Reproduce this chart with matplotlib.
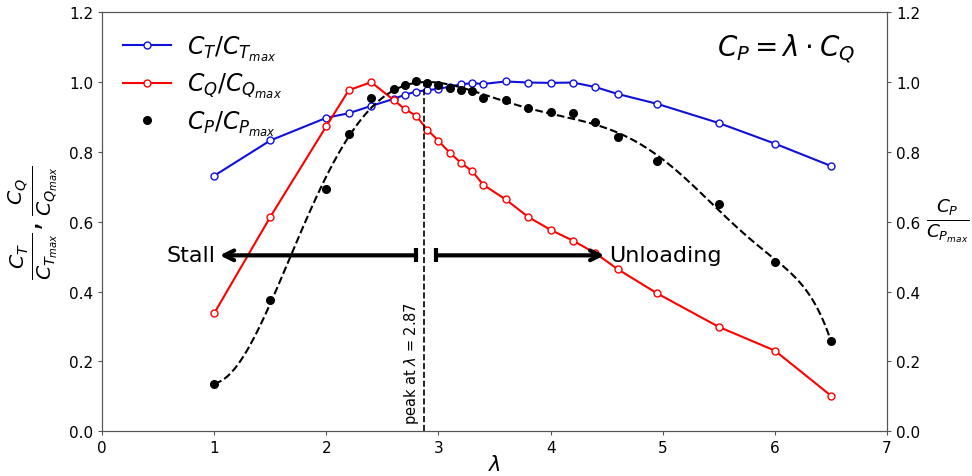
import numpy as np
import matplotlib
matplotlib.use("Agg")
import matplotlib.pyplot as plt

lam = [1.0, 1.5, 2.0, 2.2, 2.4, 2.6, 2.7, 2.8, 2.9, 3.0, 3.1, 3.2, 3.3, 3.4,
       3.6, 3.8, 4.0, 4.2, 4.4, 4.6, 4.95, 5.5, 6.0, 6.5]
ct = [0.732, 0.833, 0.898, 0.911, 0.932, 0.952, 0.964, 0.973, 0.977, 0.981,
      0.987, 0.994, 0.997, 0.995, 1.002, 0.999, 0.998, 0.999, 0.986, 0.966,
      0.938, 0.883, 0.824, 0.760]
cq = [0.338, 0.614, 0.874, 0.977, 1.000, 0.949, 0.923, 0.904, 0.864, 0.832,
      0.798, 0.769, 0.745, 0.706, 0.664, 0.614, 0.577, 0.546, 0.510, 0.464,
      0.395, 0.299, 0.231, 0.102]
cp = [0.136, 0.376, 0.694, 0.852, 0.956, 0.980, 0.992, 1.003, 0.999, 0.992,
      0.982, 0.979, 0.975, 0.956, 0.948, 0.925, 0.916, 0.911, 0.887, 0.842,
      0.773, 0.650, 0.486, 0.259]
lam_peak = 2.87

xticks = [0, 1, 2, 3, 4, 5, 6, 7]
yticks = [0.0, 0.2, 0.4, 0.6, 0.8, 1.0, 1.2]

fig = plt.figure(figsize=(9.72, 4.77), dpi=100)
ax = fig.add_axes([0.105, 0.0937, 0.8076, 0.8783])

spine_col = "#555555"
for s in ax.spines.values():
    s.set_color(spine_col)

ax.plot(lam, ct, "-o", color="#1010dd", mfc="white", mec="#1010dd", ms=5,
        lw=1.5, label=r"$C_T/C_{T_{max}}$")
ax.plot(lam, cq, "-o", color="#ff0000", mfc="white", mec="#ff0000", ms=5,
        lw=1.5, label=r"$C_Q/C_{Q_{max}}$")
ax.plot(lam, cp, "o", color="black", ms=5.5, label=r"$C_P/C_{P_{max}}$")

# smooth fit of CP
xl = np.array(lam)
coef = np.polyfit(xl, np.array(cp), 8)
xs = np.linspace(min(lam), max(lam), 400)
ax.plot(xs, np.polyval(coef, xs), "--", color="black", lw=1.5)

ax.vlines(lam_peak, 0, 1.0, colors="black", linestyles="--", lw=1.2)
ax.text(lam_peak - 0.025, 0.02, r"peak at $\lambda$ = 2.87", rotation=90,
        ha="right", va="bottom", fontsize=10.5)

astyle = "->,head_length=0.7,head_width=0.35"
for start, end in [(2.8, 1.05), (2.98, 4.48)]:
    ax.annotate("", xy=(end, 0.504), xytext=(start, 0.504),
                arrowprops=dict(arrowstyle=astyle, lw=3, color="black",
                                shrinkA=0, shrinkB=0))
    ax.plot([start], [0.504], marker="|", ms=10, mew=3, color="black")
ax.text(1.01, 0.504, "Stall", ha="right", va="center", fontsize=16)
ax.text(4.52, 0.504, "Unloading", ha="left", va="center", fontsize=16)

ax.text(0.959, 0.917, r"$C_P = \lambda \cdot C_Q$", transform=ax.transAxes,
        ha="right", va="center", fontsize=20)

ax.set_xlim(0, 7)
ax.set_ylim(0, 1.2)
ax.set_xticks(xticks)
ax.set_yticks(yticks)
ax.tick_params(labelsize=11, colors="black", color=spine_col, length=3)
ax.set_xlabel(r"$\lambda$", fontsize=15, labelpad=-1)
ax.set_ylabel(r"$\frac{C_T}{C_{T_{max}}}, \frac{C_Q}{C_{Q_{max}}}$", fontsize=21)
ax.yaxis.set_label_coords(-0.054, 0.5)

ax2 = ax.twinx()
ax2.set_ylim(0, 1.2)
ax2.set_yticks(yticks)
ax2.tick_params(labelsize=11, color=spine_col, length=3)
for s in ax2.spines.values():
    s.set_color(spine_col)
ax2.set_ylabel(r"$\frac{C_P}{C_{P_{max}}}$", fontsize=19, rotation=0,
               ha="left", va="center")
ax2.yaxis.set_label_coords(1.05, 0.505)

ax.legend(loc="upper left", fontsize=17, frameon=False, handlelength=2.0,
          borderaxespad=0.5, labelspacing=0.35, handletextpad=0.7)

fig.savefig("out.png", dpi=100)
